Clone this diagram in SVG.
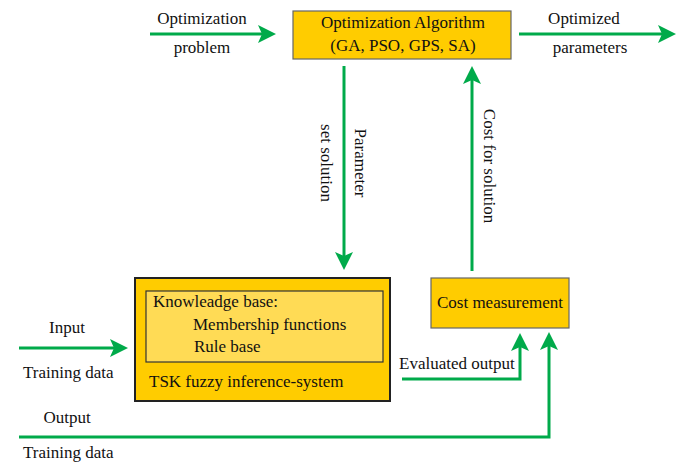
<svg xmlns="http://www.w3.org/2000/svg" width="678" height="463" viewBox="0 0 678 463">
<style>
text{font-family:"Liberation Serif","Times New Roman",serif;font-size:17px;fill:#111}
.c{text-anchor:middle}
.box{fill:#FFCC00;stroke:#666;stroke-width:1.2}
.wire{fill:none;stroke:#00AA4A;stroke-width:3}
</style>
<defs>
<marker id="ah" markerUnits="userSpaceOnUse" markerWidth="18" markerHeight="18" refX="4" refY="9" orient="auto" overflow="visible">
<path d="M0,0 L18,9 L0,18 L4,9 z" fill="#00AA4A"/>
</marker>
</defs>
<g id="connectors">
<path class="wire" d="M150,34 H262" marker-end="url(#ah)"/>
<path class="wire" d="M519,34 H662" marker-end="url(#ah)"/>
<path class="wire" d="M344,66 V256" marker-end="url(#ah)"/>
<path class="wire" d="M472,271 V80" marker-end="url(#ah)"/>
<path class="wire" d="M19,348 H114" marker-end="url(#ah)"/>
<path class="wire" d="M402,379 H520 V347" marker-end="url(#ah)"/>
<path class="wire" d="M19,437 H549 V346" marker-end="url(#ah)"/>
<text class="c" x="202" y="24">Optimization</text>
<text class="c" x="202" y="53">problem</text>
<text class="c" x="584" y="24">Optimized</text>
<text class="c" x="590" y="53">parameters</text>
<text class="c" transform="translate(355,163) rotate(90)">Parameter</text>
<text class="c" transform="translate(321,163) rotate(90)">set solution</text>
<text class="c" transform="translate(484,166) rotate(90)">Cost for solution</text>
<text class="c" x="67" y="333">Input</text>
<text x="23" y="378">Training data</text>
<text class="c" x="67" y="423">Output</text>
<text x="23" y="458">Training data</text>
<text x="399" y="369">Evaluated output</text>
</g>
<g id="optimizer">
<rect class="box" x="293" y="11" width="218" height="48"/>
<text class="c" x="403" y="28">Optimization Algorithm</text>
<text class="c" x="403" y="51">(GA, PSO, GPS, SA)</text>
</g>
<g id="tsk">
<rect x="135" y="278" width="255" height="123" fill="#FFCC00" stroke="#222" stroke-width="2"/>
<rect x="146" y="291" width="237" height="71" fill="#FFDB55" stroke="#333" stroke-width="1.2"/>
<text x="153" y="307">Knowleadge base:</text>
<text x="193" y="330">Membership functions</text>
<text x="194" y="352">Rule base</text>
<text x="149" y="387">TSK fuzzy inference-system</text>
</g>
<g id="cost">
<rect class="box" x="431" y="278" width="138" height="50"/>
<text class="c" x="500" y="308">Cost measurement</text>
</g>
</svg>
